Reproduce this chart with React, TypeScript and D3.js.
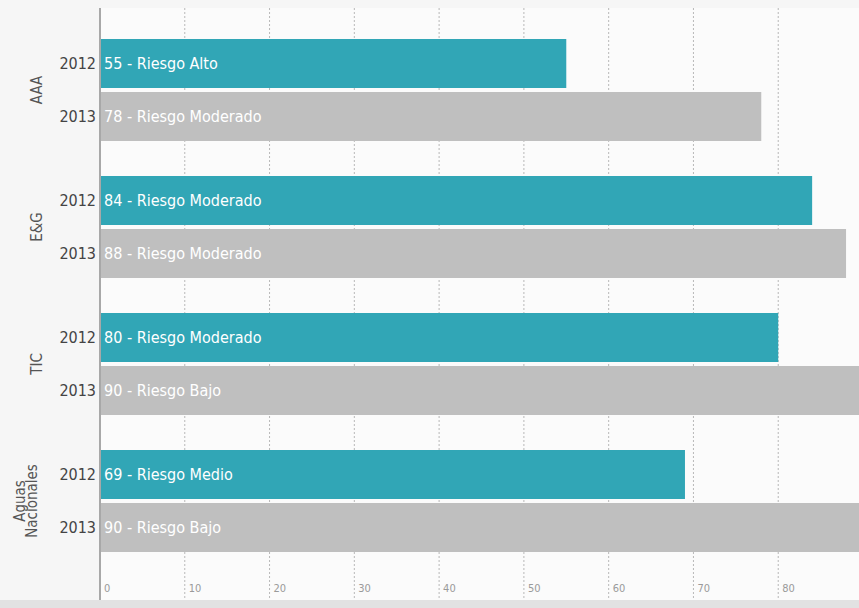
import * as d3 from 'd3';
import React from 'react';

const groups = ['AAA', 'E&G', 'TIC', 'Aguas Nacionales'];
const years = ['2012', '2013'];
const values2012 = [55, 84, 80, 69];
const values2013 = [78, 88, 90, 90];
const risk2012 = ['Riesgo Alto', 'Riesgo Moderado', 'Riesgo Moderado', 'Riesgo Medio'];
const risk2013 = ['Riesgo Moderado', 'Riesgo Moderado', 'Riesgo Bajo', 'Riesgo Bajo'];
const xTicks = [0, 10, 20, 30, 40, 50, 60, 70, 80];

const width = 859;
const height = 608;
const margin = { top: 8, left: 100, bottom: 8 };
const colors = ['#31a6b6', '#bfbfbf'];
const font = "'DejaVu Sans Condensed', 'Liberation Sans Narrow', sans-serif";

export default function App() {
  const x = d3.scaleLinear().domain([0, 90]).range([margin.left, 863]);
  const y = d3
    .scaleBand()
    .domain(groups)
    .range([21.5, 569.5])
    .paddingInner(35 / 137)
    .paddingOuter(17.5 / 137);
  const yInner = d3
    .scaleBand()
    .domain(years)
    .range([0, y.bandwidth()])
    .paddingInner(4 / 53);

  const rows = groups.flatMap((g, i) => [
    { group: g, year: years[0], value: values2012[i], risk: risk2012[i] },
    { group: g, year: years[1], value: values2013[i], risk: risk2013[i] },
  ]);

  const bottom = height - margin.bottom;

  return (
    <svg width={width} height={height} style={{ position: 'absolute', left: 0, top: 0, fontFamily: font }}>
      <rect x={0} y={0} width={width} height={height} fill="#f6f6f6" />
      <rect x={margin.left} y={margin.top} width={width - margin.left} height={bottom - margin.top} fill="#fbfbfb" />
      <rect x={0} y={bottom} width={width} height={margin.bottom} fill="#e2e2e2" />

      {xTicks.map((t) => (
        <g key={t}>
          {t > 0 && (
            <line
              x1={x(t)}
              x2={x(t)}
              y1={margin.top}
              y2={bottom}
              stroke="#b8b8b8"
              strokeDasharray="2,2"
              strokeWidth={1}
            />
          )}
          <text x={x(t) + 4} y={592} fontSize={11} fill="#9a9a9a">
            {t}
          </text>
        </g>
      ))}

      {rows.map((r, i) => {
        const top = (y(r.group) ?? 0) + (yInner(r.year) ?? 0);
        const h = yInner.bandwidth();
        return (
          <g key={i}>
            <rect
              x={x(0)}
              y={top}
              width={x(r.value) - x(0)}
              height={h}
              fill={colors[years.indexOf(r.year)]}
            />
            <text x={x(0) + 4} y={top + h / 2} dy="0.35em" fontSize={16} fill="#ffffff">
              {`${r.value} - ${r.risk}`}
            </text>
            <text x={x(0) - 4} y={top + h / 2} dy="0.35em" fontSize={16} fill="#444" textAnchor="end">
              {r.year}
            </text>
          </g>
        );
      })}

      <line x1={x(0)} x2={x(0)} y1={margin.top} y2={bottom} stroke="#a8a8a8" strokeWidth={2} />

      {groups.map((g) => {
        const cy = (y(g) ?? 0) + y.bandwidth() / 2;
        const words = g.split(' ');
        const lineH = 12;
        return (
          <text
            key={g}
            transform={`translate(${words.length > 1 ? 20 : 37}, ${cy}) rotate(-90)`}
            textAnchor="middle"
            fontSize={15}
            fill="#555"
          >
            {words.map((w, i) => (
              <tspan key={w} x={0} dy={i === 0 ? '0.35em' : lineH}>
                {w}
              </tspan>
            ))}
          </text>
        );
      })}
    </svg>
  );
}
